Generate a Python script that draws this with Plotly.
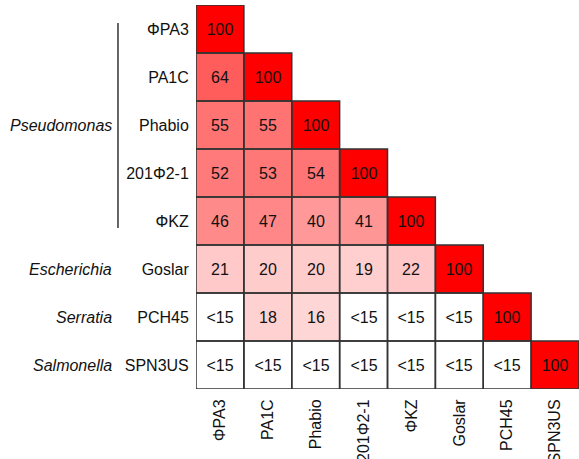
import plotly.graph_objects as go

phages = ["ΦPA3", "PA1C", "Phabio", "201Φ2-1", "ΦKZ", "Goslar", "PCH45", "SPN3US"]
genera = ["Pseudomonas", "Escherichia", "Serratia", "Salmonella"]
genus_rows = [[0, 1, 2, 3, 4], [5], [6], [7]]

# identity (%) lower triangle, row by row; None = "<15"
identity = [
    [100],
    [64, 100],
    [55, 55, 100],
    [52, 53, 54, 100],
    [46, 47, 40, 41, 100],
    [21, 20, 20, 19, 22, 100],
    [None, 18, 16, None, None, None, 100],
    [None, None, None, None, None, None, None, 100],
]

n = len(phages)
z, text = [], []
for i in range(n):
    zr, tr = [], []
    for j in range(n):
        if j <= i:
            v = identity[i][j]
            zr.append(v)
            tr.append("<15" if v is None else str(v))
        else:
            zr.append(None)
            tr.append("")
    z.append(zr)
    text.append(tr)

FONT = "Liberation Sans, Arial, sans-serif"

fig = go.Figure(go.Heatmap(
    z=z, x=list(range(n)), y=list(range(n)),
    text=text, texttemplate="%{text}",
    textfont=dict(family=FONT, size=16, color="#111111"),
    colorscale=[[0, "#ffffff"], [1, "#ff0000"]], zmin=0, zmax=100,
    showscale=False, hoverinfo="skip",
))

shapes = []
for i in range(n):
    for j in range(i + 1):
        shapes.append(dict(type="rect", xref="x", yref="y",
                           x0=j - 0.5, x1=j + 0.5, y0=i - 0.5, y1=i + 0.5,
                           line=dict(color="#333333", width=1.5)))
# bracket line for Pseudomonas
shapes.append(dict(type="line", xref="paper", yref="y",
                   x0=-0.2037, x1=-0.2037, y0=genus_rows[0][0] - 0.125, y1=genus_rows[0][-1] + 0.146,
                   line=dict(color="#333333", width=1.5)))

annotations = []
for g, rows in zip(genera, genus_rows):
    annotations.append(dict(xref="paper", yref="y", x=-0.214, y=sum(rows) / len(rows),
                            text="<i>%s</i>" % g, showarrow=False, xanchor="right",
                            font=dict(family=FONT, size=16, color="#111111")))

fig.update_layout(
    width=579, height=459,
    margin=dict(l=196, r=0, t=5, b=70),
    paper_bgcolor="white", plot_bgcolor="white",
    shapes=shapes, annotations=annotations,
    xaxis=dict(range=[-0.5, n - 0.5], tickvals=list(range(n)), ticktext=phages,
               tickangle=-90, showgrid=False, zeroline=False, showline=False,
               ticks="outside", ticklen=3, tickcolor="rgba(0,0,0,0)",
               tickfont=dict(family=FONT, size=16, color="#111111"), automargin=False),
    yaxis=dict(range=[n - 0.5, -0.5], tickvals=list(range(n)), ticktext=phages,
               showgrid=False, zeroline=False, showline=False,
               ticks="outside", ticklen=3, tickcolor="rgba(0,0,0,0)",
               tickfont=dict(family=FONT, size=16, color="#111111"), automargin=False),
)

fig.write_html("out.html", config={"displayModeBar": False},
               post_script="document.body.style.margin='0';document.body.style.overflow='hidden';")
